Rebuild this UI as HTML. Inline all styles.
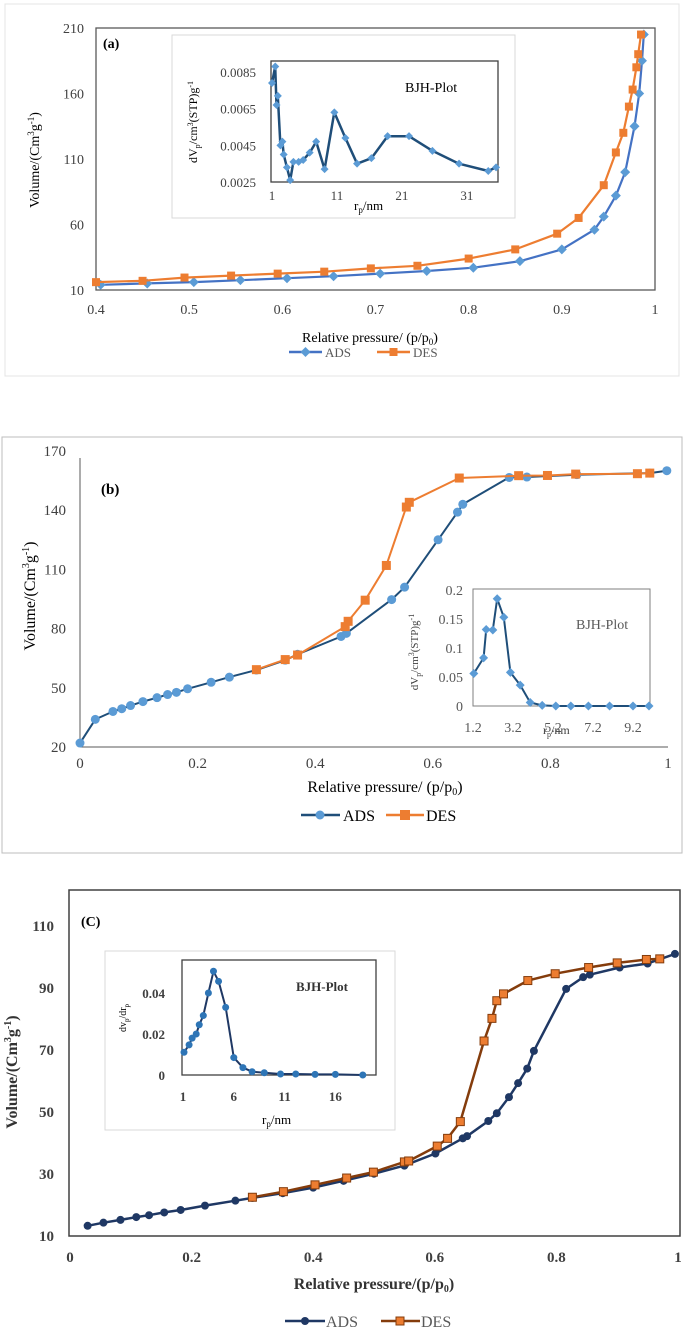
<!DOCTYPE html>
<html><head><meta charset="utf-8">
<style>
html,body{margin:0;padding:0;background:#fff;}
svg{display:block;font-family:"Liberation Serif",serif;}
</style></head>
<body>
<svg id="fig" width="685" height="1332" viewBox="0 0 685 1332" xmlns="http://www.w3.org/2000/svg">
<!-- Panel frames -->
<rect x="5" y="4" width="674" height="372" fill="none" stroke="#e4e4e4" stroke-width="1"/>
<rect x="2" y="437" width="680" height="416" fill="none" stroke="#bdbdbd" stroke-width="1"/>
<rect x="96" y="28" width="559" height="262" fill="none" stroke="#595959" stroke-width="1.3"/>
<rect x="172" y="35" width="343" height="183" fill="#fff" stroke="#d9d9d9" stroke-width="1"/>
<rect x="271" y="61" width="227" height="121" fill="none" stroke="#404040" stroke-width="1.3"/>
<line x1="80" y1="458" x2="80" y2="747" stroke="#595959" stroke-width="1"/>
<line x1="80" y1="747" x2="668" y2="747" stroke="#595959" stroke-width="1"/>
<rect x="473" y="589" width="177" height="117" fill="none" stroke="#7f7f7f" stroke-width="1"/>
<rect x="69" y="890" width="611" height="346" fill="none" stroke="#404040" stroke-width="1.5"/>
<rect x="105" y="951" width="290" height="179" fill="#fff" stroke="#d9d9d9" stroke-width="1"/>
<rect x="182" y="960" width="194" height="115" fill="none" stroke="#404040" stroke-width="1.3"/>
<g id="layer"></g>
<!-- labels -->
<text x="103" y="48" font-size="14" font-weight="bold">(a)</text>
<text x="101" y="494" font-size="15" font-weight="bold">(b)</text>
<text x="81" y="926" font-size="14" font-weight="bold">(C)</text>
<text x="405" y="92" font-size="14">BJH-Plot</text>
<text x="576" y="629" font-size="14" fill="#595959">BJH-Plot</text>
<text x="296" y="991" font-size="13" font-weight="bold" fill="#333">BJH-Plot</text>
<text transform="translate(39,160) rotate(-90)" text-anchor="middle" font-size="14">Volume/(Cm<tspan font-size="9" dy="-5">3</tspan><tspan dy="5">g</tspan><tspan font-size="9" dy="-5">-1</tspan><tspan dy="5">)</tspan></text>
<text transform="translate(35,596) rotate(-90)" text-anchor="middle" font-size="16">Volume/(Cm<tspan font-size="10" dy="-6">3</tspan><tspan dy="6">g</tspan><tspan font-size="10" dy="-6">-1</tspan><tspan dy="6">)</tspan></text>
<text transform="translate(17,1072) rotate(-90)" text-anchor="middle" font-size="16" font-weight="bold" fill="#333">Volume/(Cm<tspan font-size="10" dy="-6">3</tspan><tspan dy="6">g</tspan><tspan font-size="10" dy="-6">-1</tspan><tspan dy="6">)</tspan></text>
<text transform="translate(197,122) rotate(-90)" text-anchor="middle" font-size="12">dV<tspan font-size="8" dy="3">p</tspan><tspan dy="-3">/cm</tspan><tspan font-size="8" dy="-4">3</tspan><tspan dy="4">(STP)g</tspan><tspan font-size="8" dy="-4">-1</tspan></text>
<text transform="translate(418,652) rotate(-90)" text-anchor="middle" font-size="11" fill="#404040">dV<tspan font-size="8" dy="3">p</tspan><tspan dy="-3">/cm</tspan><tspan font-size="8" dy="-4">3</tspan><tspan dy="4">(STP)g</tspan><tspan font-size="8" dy="-4">-1</tspan></text>
<text transform="translate(126,1018) rotate(-90)" text-anchor="middle" font-size="10">dv<tspan font-size="7" dy="3">p</tspan><tspan dy="-3">/dr</tspan><tspan font-size="7" dy="3">p</tspan></text>
<text x="354" y="210" font-size="13">r<tspan font-size="9" dy="3">p</tspan><tspan dy="-3">/nm</tspan></text>
<text x="543" y="734" font-size="12" fill="#404040">r<tspan font-size="8" dy="3">p</tspan><tspan dy="-3">/nm</tspan></text>
<text x="262" y="1124" font-size="13">r<tspan font-size="9" dy="3">p</tspan><tspan dy="-3">/nm</tspan></text>
<text x="370" y="342" text-anchor="middle" font-size="14">Relative pressure/ (p/p<tspan font-size="9" dy="3">0</tspan><tspan dy="-3">)</tspan></text>
<text x="385" y="792" text-anchor="middle" font-size="16">Relative pressure/ (p/p<tspan font-size="10" dy="3">0</tspan><tspan dy="-3">)</tspan></text>
<text x="374" y="1289" text-anchor="middle" font-size="16" font-weight="bold" fill="#333">Relative pressure/(p/p<tspan font-size="10" dy="3">0</tspan><tspan dy="-3">)</tspan></text>
<!-- legends -->
<g font-size="13" fill="#595959">
<line x1="289" y1="352" x2="322" y2="352" stroke="#4472c4" stroke-width="2.5"/><path d="M305.5 347 L310.5 352 L305.5 357 L300.5 352Z" fill="#5b9bd5"/><text x="325" y="357">ADS</text>
<line x1="377" y1="352" x2="410" y2="352" stroke="#ed7d31" stroke-width="2.5"/><rect x="389.5" y="348" width="8" height="8" fill="#ed7d31"/><text x="413" y="357">DES</text>
</g>
<g font-size="16">
<line x1="301" y1="815" x2="340" y2="815" stroke="#1f4e79" stroke-width="2.5"/><circle cx="320" cy="815" r="4.5" fill="#5b9bd5"/><text x="343" y="821">ADS</text>
<line x1="386" y1="815" x2="424" y2="815" stroke="#ed7d31" stroke-width="2.5"/><rect x="400" y="810" width="10" height="10" fill="#ed7d31"/><text x="426" y="821">DES</text>
</g>
<g font-size="16" fill="#595959">
<line x1="285" y1="1321" x2="325" y2="1321" stroke="#1f3864" stroke-width="2.5"/><circle cx="305" cy="1321" r="4" fill="#1f3864"/><text x="326" y="1327">ADS</text>
<line x1="381" y1="1321" x2="420" y2="1321" stroke="#843c0c" stroke-width="2.5"/><rect x="396" y="1317" width="8" height="8" fill="#ed7d31" stroke="#843c0c" stroke-width="1"/><text x="421" y="1327">DES</text>
</g>
</svg>
<script>
// ---- Panel a data ----
const aAdsX=[0.405,0.455,0.505,0.555,0.605,0.655,0.705,0.755,0.805,0.855,0.9,0.935,0.945,0.958,0.968,0.978,0.983,0.986,0.988];
const aAdsY=[14,15,16,17.5,19,20.5,22.5,24.5,27,32,41,56,66,82,100,135,160,185,205];
const aDesX=[0.4,0.45,0.495,0.545,0.595,0.645,0.695,0.745,0.8,0.85,0.895,0.918,0.945,0.958,0.966,0.972,0.976,0.98,0.982,0.985];
const aDesY=[16,17,19.5,21,22.5,24,26.5,28.5,34,41,53,65,90,115,130,150,163,180,190,205];
const aXTicks=[0.4,0.5,0.6,0.7,0.8,0.9,1];
const aYTicks=[10,60,110,160,210];
const aInX=[1,1.5,1.7,1.9,2.3,2.6,2.8,3.3,3.8,4.3,5.1,5.8,6.8,7.8,9.1,10.6,12.3,14.1,16.3,18.8,22.1,25.7,29.8,34.3,35.5];
const aInY=[0.0079,0.0088,0.0067,0.0072,0.0045,0.0047,0.0040,0.0033,0.0026,0.0036,0.0036,0.0037,0.0041,0.0047,0.0032,0.0063,0.0049,0.0035,0.0038,0.0050,0.0050,0.0042,0.0035,0.0031,0.0033];
const aInXTicks=[1,11,21,31];
const aInYTicks=[0.0025,0.0045,0.0065,0.0085];
// ---- Panel b data ----
const bAdsX=[0,0.026,0.056,0.071,0.086,0.107,0.131,0.149,0.164,0.183,0.223,0.254,0.3,0.349,0.37,0.444,0.453,0.53,0.552,0.609,0.642,0.651,0.73,0.76,0.845,0.969,0.998];
const bAdsY=[22,34,38,39.4,41,43,45,46.6,47.7,49.5,52.8,55.4,59,64,67,76,77.6,94.7,101,125,139,143,156.6,156.8,158,158.8,160];
const bDesX=[0.3,0.349,0.37,0.451,0.456,0.485,0.521,0.555,0.56,0.645,0.746,0.795,0.843,0.948,0.969];
const bDesY=[59.2,64.3,66.6,81,83.7,94.4,112,141.6,144,156.3,157.5,157.6,158.3,158.5,158.8];
const bXTicks=[0,0.2,0.4,0.6,0.8,1];
const bYTicks=[20,50,80,110,140,170];
const bInX=[1.24,1.73,1.86,2.19,2.41,2.74,3.07,3.56,4.06,4.66,5.34,6.09,6.97,8.03,9.2,10];
const bInY=[0.056,0.083,0.132,0.131,0.185,0.153,0.058,0.036,0.006,0.001,0,0,0,0,0,0];
const bInXTicks=[1.2,3.2,5.2,7.2,9.2];
const bInYTicks=[0,0.05,0.1,0.15,0.2];
// ---- Panel c data ----
const cAdsX=[0.029,0.055,0.083,0.109,0.13,0.155,0.182,0.222,0.272,0.3,0.35,0.4,0.45,0.5,0.55,0.601,0.646,0.653,0.688,0.702,0.722,0.737,0.752,0.763,0.816,0.844,0.855,0.904,0.95,0.995];
const cAdsY=[13.3,14.3,15.2,16.1,16.7,17.6,18.4,19.8,21.4,22.3,23.8,25.6,27.8,30.1,32.7,36.6,41.5,42.2,47.1,49.6,54.8,59.3,64,69.7,89.7,93.5,94.3,96.6,97.9,101];
const cDesX=[0.3,0.351,0.403,0.455,0.499,0.55,0.557,0.604,0.621,0.642,0.681,0.694,0.702,0.713,0.753,0.798,0.853,0.9,0.948,0.97];
const cDesY=[22.5,24.3,26.5,28.7,30.6,33.9,34.2,39,41.5,46.9,72.9,80.2,85.9,88.1,92.4,94.6,96.6,98.1,99.2,99.4];
const cXTicks=[0,0.2,0.4,0.6,0.8,1];
const cYTicks=[10,30,50,70,90,110];
const cInX=[1.1,1.6,1.9,2.3,2.6,3.0,3.5,4.0,4.5,5.2,6.0,6.9,7.8,9.0,10.6,12.1,14,16,18.7];
const cInY=[0.0111,0.0147,0.018,0.02,0.0245,0.029,0.04,0.0506,0.0457,0.033,0.0085,0.0036,0.0016,0.0011,0.0005,0.0005,0.0003,0.0003,0];
const cInXTicks=[1,6,11,16];
const cInYTicks=[0,0.02,0.04];

const NS="http://www.w3.org/2000/svg";
const layer=document.getElementById('layer');
function lin(d0,d1,r0,r1){return v=>r0+(v-d0)/(d1-d0)*(r1-r0);}
function mk(tag,attrs){const e=document.createElementNS(NS,tag);for(const k in attrs)e.setAttribute(k,attrs[k]);layer.appendChild(e);return e;}
function series(name,xs,ys,sx,sy,lineCol,lw,marker,fill,size,stroke){
  const pts=xs.map((x,i)=>sx(x).toFixed(1)+','+sy(ys[i]).toFixed(1)).join(' ');
  const pl=mk('polyline',{points:pts,fill:'none',stroke:lineCol,'stroke-width':lw,'stroke-linejoin':'round'});
  
  
  xs.forEach((x,i)=>{
    const cx=sx(x),cy=sy(ys[i]);let m;
    if(marker==='circle'){m=mk('circle',{cx:cx,cy:cy,r:size,fill:fill});}
    else if(marker==='square'){m=mk('rect',{x:cx-size,y:cy-size,width:2*size,height:2*size,fill:fill});}
    else{m=mk('path',{d:`M${cx} ${cy-size}L${cx+size} ${cy}L${cx} ${cy+size}L${cx-size} ${cy}Z`,fill:fill});}
    if(stroke){m.setAttribute('stroke',stroke);m.setAttribute('stroke-width','1');}
    
    
  });
}
function ticks(name,vals,fmt,pos,isX,fixed,fs,col,bold){
  vals.forEach(v=>{
    const t=mk('text',{'font-size':fs,fill:col,'text-anchor':isX?'middle':'end'});
    if(bold)t.setAttribute('font-weight','bold');
    if(isX){t.setAttribute('x',pos(v));t.setAttribute('y',fixed);}
    else{t.setAttribute('x',fixed);t.setAttribute('y',pos(v)+5);}
    t.textContent=fmt(v);
    
    
  });
}
const S=v=>String(v);
// Panel a
const ax=lin(0.4,1,96,655), ay=lin(10,210,290,28);
ticks('panel-a-x-tick',aXTicks,S,ax,true,314,14,'#404040');
ticks('panel-a-y-tick',aYTicks,S,ay,false,84,14,'#404040');
series('panel-a-ads',aAdsX,aAdsY,ax,ay,'#4472c4',2.2,'diamond','#5b9bd5',5);
series('panel-a-des',aDesX,aDesY,ax,ay,'#ed7d31',2.2,'square','#ed7d31',4);
const aix=lin(1,35.8,272,498), aiy=lin(0.0025,0.0085,182,72);
ticks('panel-a-inset-x-tick',aInXTicks,S,aix,true,200,13,'#404040');
ticks('panel-a-inset-y-tick',aInYTicks,v=>v.toFixed(4),aiy,false,256,13,'#404040');
series('panel-a-inset',aInX,aInY,aix,aiy,'#1f4e79',2.5,'diamond','#5b9bd5',4);
// Panel b
const bx=lin(0,1,80,668), by=lin(20,170,747,451);
ticks('panel-b-x-tick',bXTicks,S,bx,true,768,15,'#404040');
ticks('panel-b-y-tick',bYTicks,S,by,false,66,15,'#404040');
series('panel-b-ads',bAdsX,bAdsY,bx,by,'#1f4e79',2,'circle','#5b9bd5',4.5);
series('panel-b-des',bDesX,bDesY,bx,by,'#ed7d31',2,'square','#ed7d31',4.5);
const bix=lin(1.2,9.2,473,633), biy=lin(0,0.2,706,590);
ticks('panel-b-inset-x-tick',bInXTicks,v=>v.toFixed(1),bix,true,732,14,'#595959');
ticks('panel-b-inset-y-tick',bInYTicks,S,biy,false,463,14,'#595959');
series('panel-b-inset',bInX,bInY,bix,biy,'#1f4e79',2,'diamond','#5b9bd5',4.5);
// Panel c
const cx=lin(0,1,70,678), cy=lin(10,110,1236,926);
ticks('panel-c-x-tick',cXTicks,S,cx,true,1262,15,'#404040',true);
ticks('panel-c-y-tick',cYTicks,S,cy,false,54,15,'#404040',true);
series('panel-c-ads',cAdsX,cAdsY,cx,cy,'#1f3864',2.5,'circle','#1f3864',4);
series('panel-c-des',cDesX,cDesY,cx,cy,'#843c0c',2.5,'square','#ed7d31',4,'#843c0c');
const cix=lin(1,20,183,376), ciy=lin(0,0.04,1075,993);
ticks('panel-c-inset-x-tick',cInXTicks,S,cix,true,1101,13,'#404040',true);
ticks('panel-c-inset-y-tick',cInYTicks,S,ciy,false,165,13,'#404040',true);
series('panel-c-inset',cInX,cInY,cix,ciy,'#1f3864',2,'circle','#2e75b6',3.5);
</script>
</body></html>
